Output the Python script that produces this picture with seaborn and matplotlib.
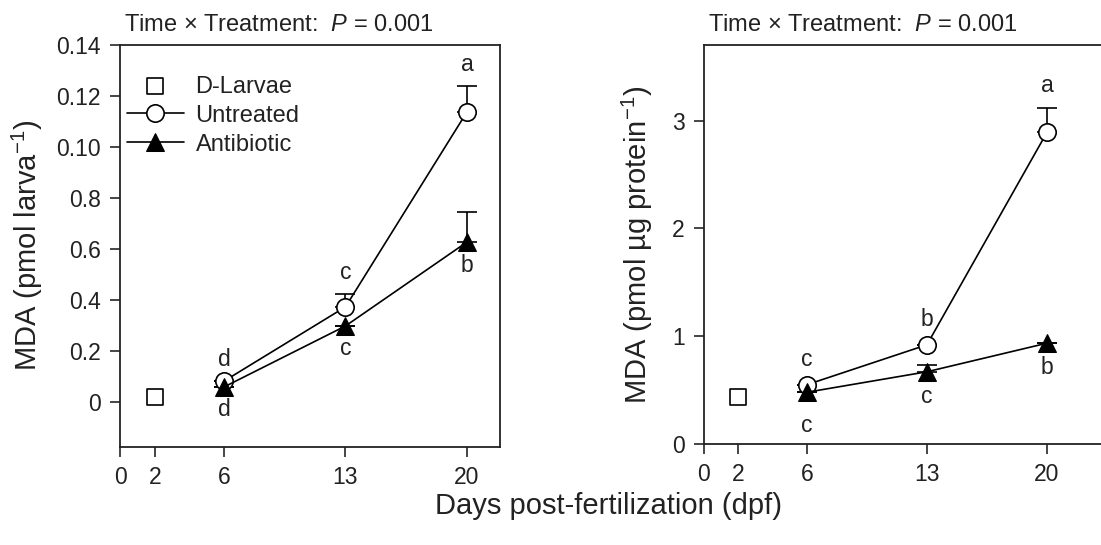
import matplotlib
matplotlib.use("Agg")
import matplotlib.pyplot as plt
import seaborn as sns
import numpy as np
import pandas as pd

# Datos
days = [6, 13, 20]
dlarvae_day = [2]

# panel izquierdo (pmol larva-1)
left_dlarvae = [0.002]
left_untreated = [0.0082, 0.0373, 0.1137]
left_untreated_err = [0.0, 0.0051, 0.0103]
left_antibiotic = [0.0059, 0.0298, 0.0627]
left_antibiotic_err = [0.0, 0.0, 0.0118]
left_yticks = [0, 0.02, 0.04, 0.06, 0.08, 0.10, 0.12, 0.14]
left_yticklabels = ['0', '0.2', '0.4', '0.6', '0.8', '0.10', '0.12', '0.14']
left_letters_up = ['d', 'c', 'a']
left_letters_down = ['d', 'c', 'b']

# panel derecho (pmol µg protein-1)
right_dlarvae = [0.44]
right_untreated = [0.55, 0.92, 2.89]
right_untreated_err = [0.0, 0.0, 0.23]
right_antibiotic = [0.48, 0.67, 0.935]
right_antibiotic_err = [0.0, 0.06, 0.0]
right_yticks = [0, 1, 2, 3]
right_letters_up = ['c', 'b', 'a']
right_letters_down = ['c', 'c', 'b']

xticks = [0, 2, 6, 13, 20]

sns.set_style("ticks")
plt.rcParams['font.family'] = ['Liberation Sans', 'DejaVu Sans']
plt.rcParams['mathtext.fontset'] = 'custom'
plt.rcParams['mathtext.rm'] = 'Liberation Sans'
plt.rcParams['mathtext.it'] = 'Liberation Sans:italic'

TXT = '#222222'
fig = plt.figure(figsize=(11.01, 5.45), dpi=100)
ax1 = fig.add_axes([0.109, 0.180, 0.345, 0.7376])
ax2 = fig.add_axes([0.6394, 0.1853, 0.366, 0.732])


def draw_panel(ax, dl, unt, unt_err, anti, anti_err):
    sns.scatterplot(x=dlarvae_day, y=dl, ax=ax, marker='s', s=140, facecolor='white',
                    edgecolor='black', linewidth=1.2, label='D-Larvae', zorder=4)
    ax.errorbar(days, unt, yerr=[np.zeros(3), unt_err], fmt='none', ecolor='black',
                elinewidth=1.2, capsize=7, capthick=1.2, zorder=2)
    ax.errorbar(days, anti, yerr=[np.zeros(3), anti_err], fmt='none', ecolor='black',
                elinewidth=1.2, capsize=7, capthick=1.2, zorder=2)
    sns.lineplot(x=days, y=unt, ax=ax, color='black', linewidth=1.2, marker='o',
                 markersize=12.5, markerfacecolor='white', markeredgecolor='black',
                 markeredgewidth=1.2, label='Untreated', zorder=3)
    sns.lineplot(x=days, y=anti, ax=ax, color='black', linewidth=1.2, marker='^',
                 markersize=12.5, markerfacecolor='black', markeredgecolor='black',
                 label='Antibiotic', zorder=3)
    ax.set_xticks(xticks)
    ax.set_xticklabels([str(t) for t in xticks])
    ax.tick_params(direction='out', length=7, width=1.2, labelsize=16.5, pad=7,
                   labelcolor=TXT)
    for s in ax.spines.values():
        s.set_linewidth(1.3)
        s.set_color(TXT)
    ax.set_title(r'Time $\times$ Treatment:  $\it{P}$ = 0.001', fontsize=17, loc='left',
                 x=0.01, pad=10, color=TXT)


draw_panel(ax1, left_dlarvae, left_untreated, left_untreated_err,
           left_antibiotic, left_antibiotic_err)
ax1.set_xlim(0, 21.9)
ax1.set_ylim(-0.0176, 0.14)
ax1.set_yticks(left_yticks)
ax1.set_yticklabels(left_yticklabels)
ax1.set_ylabel('MDA (pmol larva$^{-1}$)', fontsize=21, labelpad=8, color=TXT)
ax1.legend(loc='upper left', bbox_to_anchor=(-0.025, 0.965), frameon=False, fontsize=17,
           handlelength=2.4, handletextpad=0.5, labelspacing=0.3, borderaxespad=0.3,
           labelcolor=TXT)
for x, y, e, t in zip(days, left_untreated, left_untreated_err, left_letters_up):
    ax1.text(x, y + e + 0.004, t, ha='center', va='bottom', fontsize=16.5, color=TXT)
for x, y, t in zip(days, left_antibiotic, left_letters_down):
    ax1.text(x, y - 0.0045, t, ha='center', va='top', fontsize=16.5, color=TXT)

draw_panel(ax2, right_dlarvae, right_untreated, right_untreated_err,
           right_antibiotic, right_antibiotic_err)
ax2.legend_.remove()
ax2.set_xlim(0, 23.5)
ax2.set_ylim(0, 3.7)
ax2.set_yticks(right_yticks)
ax2.set_yticklabels([str(t) for t in right_yticks])
ax2.set_ylabel('MDA (pmol µg protein$^{-1}$)', fontsize=21, labelpad=12, color=TXT)
ax2.text(days[0], right_untreated[0] + 0.13, right_letters_up[0], ha='center', va='bottom',
         fontsize=16.5, color=TXT)
ax2.text(days[1], right_untreated[1] + 0.13, right_letters_up[1], ha='center', va='bottom',
         fontsize=16.5, color=TXT)
ax2.text(days[2], right_untreated[2] + right_untreated_err[2] + 0.1, right_letters_up[2],
         ha='center', va='bottom', fontsize=16.5, color=TXT)
ax2.text(days[0], right_antibiotic[0] - 0.2, right_letters_down[0], ha='center', va='top',
         fontsize=16.5, color=TXT)
ax2.text(days[1], right_antibiotic[1] - 0.12, right_letters_down[1], ha='center', va='top',
         fontsize=16.5, color=TXT)
ax2.text(days[2], right_antibiotic[2] - 0.12, right_letters_down[2], ha='center', va='top',
         fontsize=16.5, color=TXT)

fig.text(0.553, 0.072, 'Days post-fertilization (dpf)', ha='center', va='center',
         fontsize=21, color=TXT)

fig.savefig('out.png', dpi=100)
